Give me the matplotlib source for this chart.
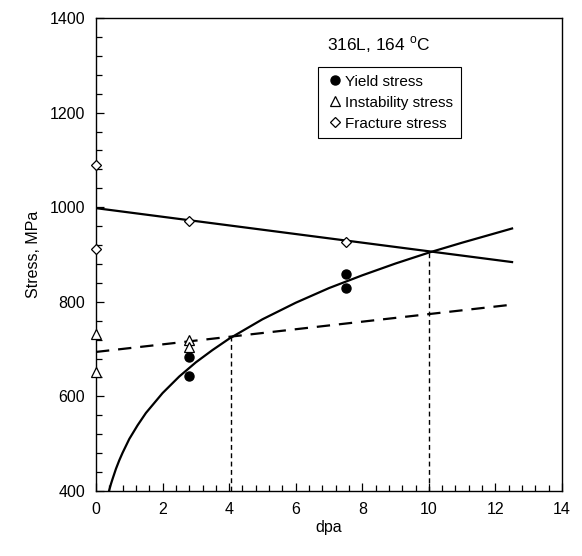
import matplotlib
matplotlib.use("Agg")
import matplotlib.pyplot as plt
from matplotlib.ticker import MultipleLocator

# -----------------------------
# Data
# -----------------------------
yield_dpa = [2.8, 2.8, 7.5, 7.5]
yield_stress = [684, 643, 859, 829]

instab_dpa = [0, 0, 2.8, 2.8]
instab_stress = [731, 652, 719, 705]

fract_dpa = [0, 0, 2.8, 7.5]
fract_stress = [1090, 911, 971, 926]

# fitted trend lines as drawn in the original
yield_fit_dpa = [0.39, 0.45, 0.5, 0.6, 0.7, 0.8, 1.0, 1.25, 1.5, 2.0, 2.5,
                 3.0, 3.5, 4.0, 5.0, 6.0, 7.0, 8.0, 9.0, 10.0, 11.0, 12.0,
                 12.5]
yield_fit_stress = [400, 415, 426, 447, 465, 481, 510, 539, 565, 607, 642,
                    672, 698, 722, 763, 798, 829, 856, 881, 904, 925, 945,
                    955]

fract_fit_dpa = [0, 12.5]
fract_fit_stress = [998, 884]

instab_fit_dpa = [0, 12.5]
instab_fit_stress = [694, 794]

# crossing points marked with vertical guides
cross_dpa = [4.05, 10.0]
cross_stress = [725, 906]

# -----------------------------
# Style
# -----------------------------
plt.rcParams["font.family"] = ["Liberation Sans", "DejaVu Sans"]
plt.rcParams["mathtext.fontset"] = "custom"
plt.rcParams["mathtext.rm"] = "Liberation Sans"

fig = plt.figure(figsize=(5.82, 5.56), dpi=100)
ax = fig.add_axes([96 / 582, 1 - 491 / 556, 466 / 582, 473 / 556])

# trend lines
ax.plot(yield_fit_dpa, yield_fit_stress, color="black", linewidth=1.6)
ax.plot(fract_fit_dpa, fract_fit_stress, color="black", linewidth=1.6)
ax.plot(instab_fit_dpa, instab_fit_stress, color="black", linewidth=1.6,
        linestyle=(0, (6, 4)))

for xd, yd in zip(cross_dpa, cross_stress):
    ax.plot([xd, xd], [400, yd], color="black", linewidth=1.0,
            linestyle=(0, (3.5, 2.5)))

# data points
ax.plot(yield_dpa, yield_stress, "o", color="black", markersize=6.5,
        linestyle="none", label="Yield stress", clip_on=False, zorder=5)
ax.plot(instab_dpa, instab_stress, "^", markerfacecolor="white",
        markeredgecolor="black", markersize=7, markeredgewidth=0.9,
        linestyle="none", label="Instability stress", clip_on=False, zorder=5)
ax.plot(fract_dpa, fract_stress, "D", markerfacecolor="white",
        markeredgecolor="black", markersize=5, markeredgewidth=0.9,
        linestyle="none", label="Fracture stress", clip_on=False, zorder=5)

# -----------------------------
# Axes formatting
# -----------------------------
ax.set_xlim(0, 14)
ax.set_ylim(400, 1400)
ax.xaxis.set_major_locator(MultipleLocator(2))
ax.xaxis.set_minor_locator(MultipleLocator(0.4))
ax.yaxis.set_major_locator(MultipleLocator(200))
ax.yaxis.set_minor_locator(MultipleLocator(40))
ax.tick_params(which="both", direction="in", top=False, right=False,
               labelsize=11.5, width=0.9)
ax.tick_params(which="major", length=6, pad=8)
ax.tick_params(which="minor", length=4)
for sp in ax.spines.values():
    sp.set_linewidth(1.0)

ax.set_xlabel("dpa", fontsize=11.5, labelpad=2)
ax.set_ylabel("Stress, MPa", fontsize=11.5, labelpad=6)

ax.text(6.95, 1343, r"316L, 164 $^\mathrm{o}$C", fontsize=12.5,
        va="center", ha="left")

leg = ax.legend(loc="upper left", bbox_to_anchor=(0.476, 0.896),
                borderaxespad=0, fancybox=False, edgecolor="black",
                fontsize=11, handletextpad=0.1, handlelength=1.2,
                borderpad=0.5, labelspacing=0.45, framealpha=1)
leg.get_frame().set_linewidth(0.8)

fig.savefig("out.png", dpi=100)
